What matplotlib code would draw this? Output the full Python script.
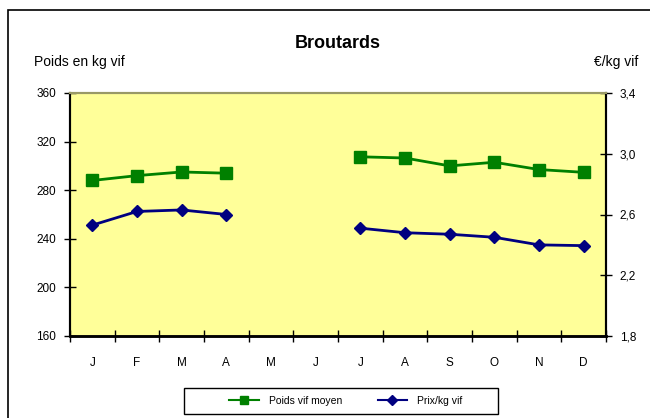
import numpy as np
import matplotlib
matplotlib.use("Agg")
import matplotlib.pyplot as plt
from matplotlib.patches import Rectangle
from matplotlib.lines import Line2D

plt.rcParams['font.family'] = ['Liberation Sans Narrow', 'Liberation Sans', 'DejaVu Sans']

months = ['J', 'F', 'M', 'A', 'M', 'J', 'J', 'A', 'S', 'O', 'N', 'D']
poids = [288, 292, 295, 294, np.nan, np.nan, 307.5, 306.5, 300, 303, 297, 294.7]
prix = [2.53, 2.62, 2.63, 2.60, np.nan, np.nan, 2.51, 2.48, 2.47, 2.45, 2.40, 2.395]
left_ticks = [160, 200, 240, 280, 320, 360]
right_ticks = [1.8, 2.2, 2.6, 3.0, 3.4]

W, H = 650, 418
fig = plt.figure(figsize=(W / 100, H / 100), dpi=100)
fig.patch.set_facecolor('white')

# outer chart frame
fig.patches.append(Rectangle((8 / W, -0.05), 1.0, 1 - 10 / H + 0.05,
                             transform=fig.transFigure, fill=False,
                             edgecolor='black', linewidth=1.2))

ax = fig.add_axes([70 / W, 1 - 336 / H, 536 / W, 243 / H])
ax.set_facecolor('#FFFF99')
x = np.arange(len(months))

ax.plot(x, poids, color='#008000', linewidth=2, marker='s', markersize=8,
        markerfacecolor='#008000', markeredgecolor='#008000', zorder=3)
ax.set_ylim(160, 360)
ax.set_xlim(-0.5, 11.5)
ax.set_yticks(left_ticks)
ax.set_yticklabels([str(v) for v in left_ticks], fontsize=8.5)
ax.set_xticks(np.arange(-0.5, 12, 1))
ax.set_xticklabels([])
ax.set_xticks(x, minor=True)
ax.set_xticklabels(months, minor=True, fontsize=8.5)
ax.tick_params(axis='x', which='minor', length=0, pad=15)
ax.tick_params(axis='x', which='major', direction='inout', length=8, width=1)
ax.tick_params(axis='y', direction='inout', length=8, width=1, pad=6)

ax2 = ax.twinx()
ax2.plot(x, prix, color='#000080', linewidth=2, marker='D', markersize=6,
         markerfacecolor='#000080', markeredgecolor='#000080', zorder=3)
ax2.set_ylim(1.8, 3.4)
ax2.set_yticks(right_ticks)
ax2.set_yticklabels([f"{v:.1f}".replace('.', ',') for v in right_ticks], fontsize=8.5)
ax2.tick_params(axis='y', direction='inout', length=8, width=1, pad=6)

for a in (ax, ax2):
    a.spines['top'].set_color('#999966')
    a.spines['top'].set_linewidth(1.5)
    a.spines['left'].set_linewidth(1.5)
    a.spines['right'].set_linewidth(1.5)
    a.spines['bottom'].set_linewidth(1.8)

fig.text(338 / W, 1 - 44 / H, 'Broutards', ha='center', va='center',
         fontsize=13, fontweight='bold')
fig.text(34 / W, 1 - 62 / H, 'Poids en kg vif', ha='left', va='center', fontsize=10)
fig.text(638 / W, 1 - 62 / H, '€/kg vif', ha='right', va='center', fontsize=10)

# legend frame
fig.patches.append(Rectangle((184 / W, 1 - 414 / H), 314 / W, 26 / H,
                             transform=fig.transFigure, fill=False,
                             edgecolor='black', linewidth=1.0))
handles = [Line2D([0], [0], color='#008000', linewidth=1.5, marker='s', markersize=6),
           Line2D([0], [0], color='#000080', linewidth=1.5, marker='D', markersize=5)]
leg = fig.legend(handles, ['Poids vif moyen', 'Prix/kg vif'], loc='center',
                 bbox_to_anchor=(346 / W, 1 - 401 / H), ncol=2, fontsize=7.5,
                 frameon=False, handlelength=2.8, handletextpad=1.0,
                 columnspacing=3.4)

fig.savefig('out.png', dpi=100)
